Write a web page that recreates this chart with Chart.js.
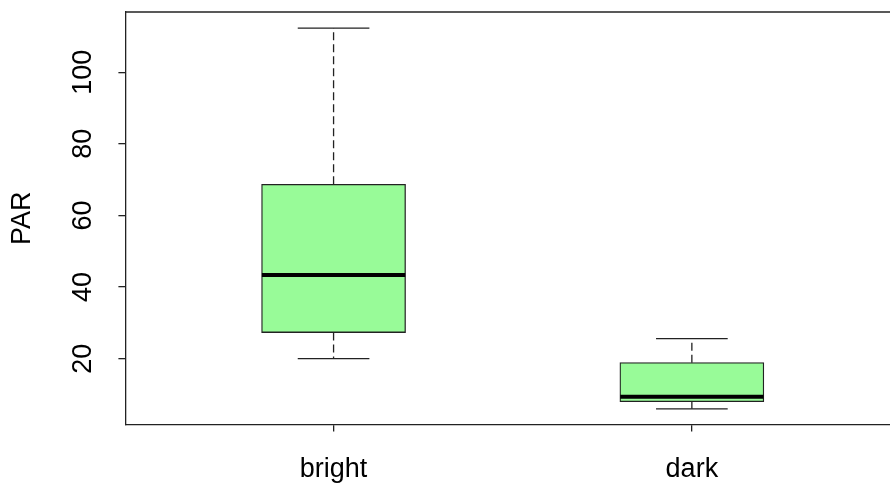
<!DOCTYPE html>
<html>
<head>
<meta charset="utf-8">
<script src="https://cdn.jsdelivr.net/npm/chart.js@4.4.1/dist/chart.umd.min.js"></script>
<style>
  html, body { margin: 0; padding: 0; background: #fff; }
  #wrap { width: 890px; height: 484px; }
</style>
</head>
<body>
<div id="wrap"><canvas id="chart1"></canvas></div>
<script>
// data
var categories = ["bright", "dark"];
var lowWhisker = [20.0, 6.0];
var q1 = [27.3, 8.0];
var median = [43.4, 9.4];
var q3 = [68.7, 18.9];
var highWhisker = [112.3, 25.6];
var yTicks = [20, 40, 60, 80, 100];

var FONT = "Liberation Sans, Arial, sans-serif";
var INK = "#222";

var boxData = categories.map(function (c, i) {
  return { x: i + 1, y: [q1[i], q3[i]] };
});

// whiskers, caps, medians, top frame and rotated y labels
var boxExtras = {
  id: "boxExtras",
  afterDatasetsDraw: function (chart) {
    var ctx = chart.ctx;
    var xs = chart.scales.x;
    var ys = chart.scales.y;
    ctx.save();
    ctx.strokeStyle = INK;
    categories.forEach(function (c, i) {
      var cx = xs.getPixelForValue(i + 1);
      var capL = xs.getPixelForValue(i + 1 - 0.1);
      var capR = xs.getPixelForValue(i + 1 + 0.1);
      var boxL = xs.getPixelForValue(i + 1 - 0.2);
      var boxR = xs.getPixelForValue(i + 1 + 0.2);

      ctx.lineWidth = 1.3;
      ctx.setLineDash([8, 4]);
      ctx.beginPath();
      ctx.moveTo(cx, ys.getPixelForValue(q3[i]));
      ctx.lineTo(cx, ys.getPixelForValue(highWhisker[i]));
      ctx.moveTo(cx, ys.getPixelForValue(q1[i]));
      ctx.lineTo(cx, ys.getPixelForValue(lowWhisker[i]));
      ctx.stroke();

      ctx.setLineDash([]);
      ctx.beginPath();
      var yh = ys.getPixelForValue(highWhisker[i]);
      var yl = ys.getPixelForValue(lowWhisker[i]);
      ctx.moveTo(capL, yh); ctx.lineTo(capR, yh);
      ctx.moveTo(capL, yl); ctx.lineTo(capR, yl);
      ctx.stroke();

      ctx.strokeStyle = "#000";
      ctx.lineWidth = 4;
      ctx.beginPath();
      var ym = ys.getPixelForValue(median[i]);
      ctx.moveTo(boxL, ym); ctx.lineTo(boxR, ym);
      ctx.stroke();
      ctx.strokeStyle = INK;
    });
    ctx.restore();
  },
  afterDraw: function (chart) {
    var ctx = chart.ctx;
    var a = chart.chartArea;
    var ys = chart.scales.y;
    ctx.save();
    ctx.strokeStyle = INK;
    ctx.lineWidth = 1.3;
    ctx.beginPath();
    ctx.moveTo(a.left, a.top);
    ctx.lineTo(a.right, a.top);
    ctx.stroke();

    ctx.fillStyle = "#000";
    ctx.font = "27px " + FONT;
    ctx.textAlign = "center";
    ctx.textBaseline = "alphabetic";
    yTicks.forEach(function (v) {
      ctx.save();
      ctx.translate(a.left - 34, ys.getPixelForValue(v));
      ctx.rotate(-Math.PI / 2);
      ctx.fillText(String(v), 0, 0);
      ctx.restore();
    });
    ctx.restore();
  }
};

var ctx = document.getElementById("chart1").getContext("2d");
var myChart = new Chart(ctx, {
  type: "bar",
  data: {
    datasets: [
      {
        label: "PAR",
        data: boxData,
        backgroundColor: "#98FB98",
        borderColor: INK,
        borderWidth: 1.3,
        borderSkipped: false,
        barThickness: 144,
      },
    ],
  },
  plugins: [boxExtras],
  options: {
    responsive: true,
    maintainAspectRatio: false,
    animation: false,
    layout: {
      padding: { top: 12, right: 0, bottom: -24, left: 0 },
    },
    plugins: {
      legend: { display: false },
      tooltip: { enabled: false },
    },
    scales: {
      x: {
        type: "linear",
        min: 0.419,
        max: 2.553,
        offset: false,
        afterBuildTicks: function (scale) {
          scale.ticks = categories.map(function (c, i) { return { value: i + 1 }; });
        },
        ticks: {
          color: "#000",
          padding: 22,
          maxRotation: 0,
          font: { family: FONT, size: 27 },
          callback: function (v) { return categories[v - 1]; },
        },
        grid: {
          offset: false,
          drawOnChartArea: false,
          tickLength: 7,
          color: INK,
          lineWidth: 1.3,
        },
        border: { color: INK, width: 1.3 },
      },
      y: {
        min: 1.6,
        max: 116.8,
        afterBuildTicks: function (scale) {
          scale.ticks = yTicks.map(function (v) { return { value: v }; });
        },
        ticks: { display: false },
        grid: {
          drawOnChartArea: false,
          tickLength: 7,
          color: INK,
          lineWidth: 1.3,
        },
        border: { color: INK, width: 1.3 },
        title: {
          display: true,
          text: "PAR",
          color: "#000",
          font: { family: FONT, size: 27 },
          padding: { top: 6, bottom: 80 },
        },
      },
    },
  },
});
</script>
</body>
</html>
